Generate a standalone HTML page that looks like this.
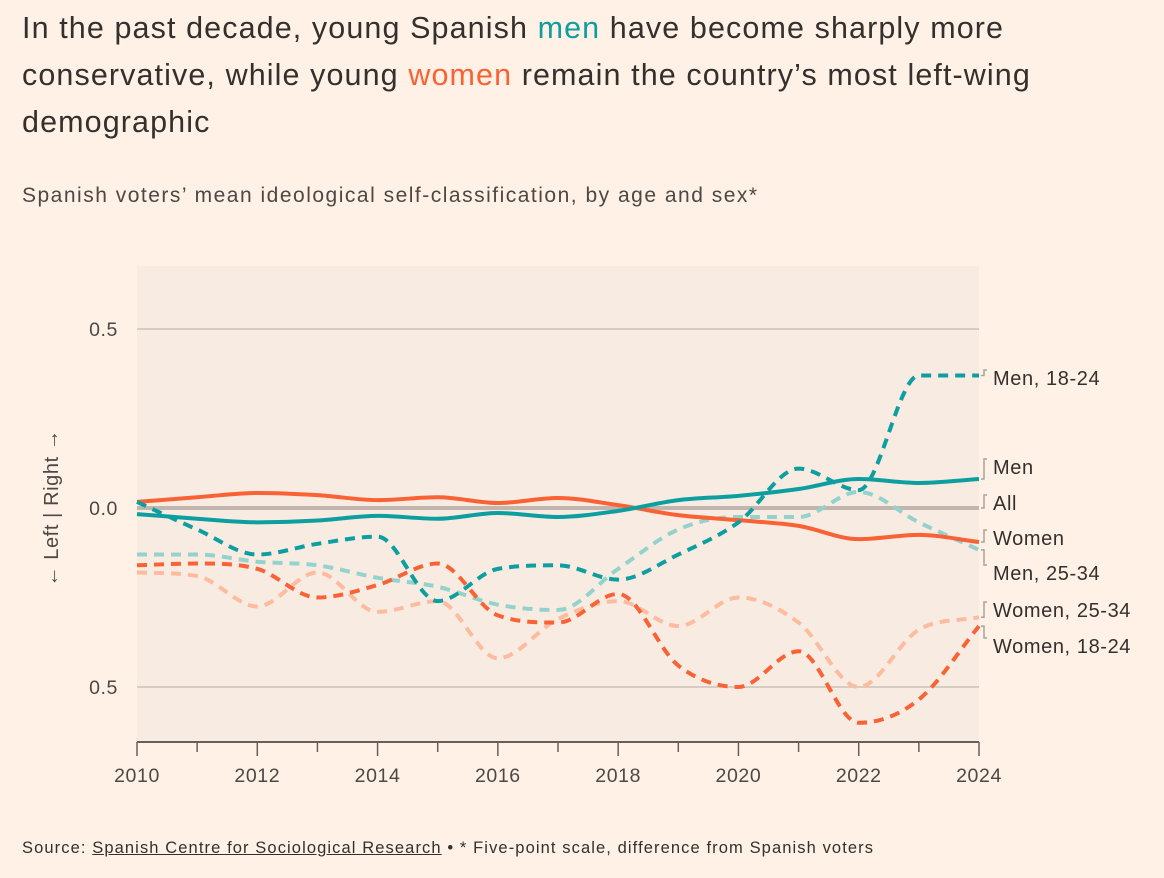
<!DOCTYPE html>
<html><head><meta charset="utf-8">
<style>
body{margin:0;background:#fff1e5;font-family:"Liberation Sans",sans-serif;color:#33302e;}
#wrap{position:relative;width:1164px;height:878px;overflow:hidden;}
h1{position:absolute;left:22px;top:5px;margin:0;font-weight:normal;font-size:30.5px;line-height:47px;width:1130px;letter-spacing:1.1px;white-space:nowrap;}
.m{color:#0d9ea0}.w{color:#f96235}
#sub{position:absolute;left:22px;top:184px;font-size:21px;color:#4d4845;letter-spacing:1.5px;}
#src{position:absolute;left:22px;top:839px;font-size:16.5px;color:#33302e;letter-spacing:1.1px;}
#src u{text-decoration:underline;}
svg{position:absolute;left:0;top:0;}
svg text{letter-spacing:0.6px;}
</style></head><body>
<div id="wrap">
<h1>In the past decade, young Spanish <span class="m">men</span> have become sharply more<br>conservative, while young <span class="w">women</span> remain the country’s most left-wing<br>demographic</h1>
<div id="sub">Spanish voters’ mean ideological self-classification, by age and sex*</div>
<svg id="chart" width="1164" height="878"></svg>
<div id="src">Source: <u>Spanish Centre for Sociological Research</u> • * Five-point scale, difference from Spanish voters</div>
</div>
<script>
const years=[2010,2011,2012,2013,2014,2015,2016,2017,2018,2019,2020,2021,2022,2023,2024];
const yTicks=[0.5,0,-0.5];
const yTickLabels=["0.5","0.0","0.5"];
const xTickLabels=[2010,2012,2014,2016,2018,2020,2022,2024];
const allVals=[0,0,0,0,0,0,0,0,0,0,0,0,0,0,0];
const menVals=[-0.017,-0.03,-0.04,-0.035,-0.022,-0.03,-0.014,-0.025,-0.008,0.022,0.034,0.053,0.081,0.07,0.081];
const womenVals=[0.017,0.03,0.042,0.036,0.022,0.03,0.014,0.028,0.008,-0.02,-0.034,-0.05,-0.087,-0.075,-0.095];
const men2534=[-0.13,-0.13,-0.15,-0.16,-0.195,-0.22,-0.27,-0.285,-0.17,-0.06,-0.025,-0.025,0.045,-0.04,-0.117];
const women2534=[-0.18,-0.19,-0.275,-0.18,-0.29,-0.26,-0.42,-0.31,-0.26,-0.33,-0.25,-0.32,-0.5,-0.34,-0.305];
const women1824=[-0.16,-0.155,-0.17,-0.25,-0.215,-0.155,-0.3,-0.32,-0.24,-0.44,-0.5,-0.4,-0.6,-0.535,-0.33];
const men1824=[0.017,-0.06,-0.13,-0.10,-0.08,-0.26,-0.17,-0.16,-0.20,-0.13,-0.04,0.11,0.05,0.37,0.37];

const X0=137,X1=979,Y0=508,PU=358;
const x=yr=>X0+(yr-2010)*(X1-X0)/14;
const y=v=>Y0-v*PU;
const svg=document.getElementById('chart');
const NS='http://www.w3.org/2000/svg';
function mk(t,a,p){const e=document.createElementNS(NS,t);for(const k in a)e.setAttribute(k,a[k]);(p||svg).appendChild(e);return e;}

let bg=mk('rect',{x:X0,y:266,width:X1-X0,height:476,fill:'#f8ece2'});



yTicks.forEach((t,i)=>{
  if(t!==0){let g=mk('line',{x1:X0,x2:X1,y1:y(t),y2:y(t),stroke:'#ccc1b7','stroke-width':1.5});
  
  }
  let tx=mk('text',{x:118,y:y(t)+7,'text-anchor':'end','font-size':19.5,fill:'#4d4845'});
  tx.textContent=yTickLabels[i];
  
  
});
let yt=mk('text',{transform:'translate(58,508) rotate(-90)','text-anchor':'middle','font-size':20,fill:'#4d4845'});
yt.textContent='← Left | Right →';



let ax=mk('line',{x1:X0,x2:X1,y1:742,y2:742,stroke:'#33302e','stroke-width':1.5});


years.forEach(yr=>{let t=mk('line',{x1:x(yr),x2:x(yr),y1:742,y2:yr%2?752:756,stroke:'#66605c','stroke-width':1.5});

});
xTickLabels.forEach(yr=>{let t=mk('text',{x:x(yr),y:782,'text-anchor':'middle','font-size':19.5,fill:'#4d4845'});t.textContent=yr;

});

function path(vals){
  const p=vals.map((v,i)=>[x(years[i]),y(v)]);
  const n=p.length,h=p[1][0]-p[0][0];
  const d0=[];for(let i=0;i<n-1;i++)d0.push((p[i+1][1]-p[i][1])/h);
  const m=[];
  for(let i=0;i<n;i++){
    if(i===0)m.push(d0[0]);else if(i===n-1)m.push(d0[n-2]);
    else{const a=d0[i-1],b=d0[i];m.push(a*b<=0?0:(a+b)/2);}
  }
  for(let i=0;i<n-1;i++){
    if(d0[i]===0){m[i]=0;m[i+1]=0;continue;}
    const a=m[i]/d0[i],b=m[i+1]/d0[i],s=a*a+b*b;
    if(s>9){const t=3/Math.sqrt(s);m[i]=t*a*d0[i];m[i+1]=t*b*d0[i];}
  }
  let d='M'+p[0][0]+','+p[0][1];
  for(let i=0;i<n-1;i++){
    d+=`C${p[i][0]+h/3},${p[i][1]+m[i]*h/3} ${p[i+1][0]-h/3},${p[i+1][1]-m[i+1]*h/3} ${p[i+1][0]},${p[i+1][1]}`;
  }
  return d;
}
const series=[
 [allVals,'#c1b5ad',4,null,'line-all'],
 [women2534,'#fdbb9f',4,'10 7','line-women-25-34'],
 [men2534,'#94d3cd',4,'10 7','line-men-25-34'],
 [women1824,'#f96235',4,'10 7','line-women-18-24'],
 [womenVals,'#f96235',4,null,'line-women'],
 [menVals,'#0d9ea0',4,null,'line-men'],
 [men1824,'#0d9ea0',4,'10 7','line-men-18-24'],
];
series.forEach(s=>{
  const a={d:path(s[0]),fill:'none',stroke:s[1],'stroke-width':s[2],'stroke-linecap':'butt'};
  if(s[3])a['stroke-dasharray']=s[3];
  let e=mk('path',a);
  
  
});

const labels=[['Men, 18-24',378,y(men1824[14])],['Men',467,y(menVals[14])],['All',503,y(allVals[14])],['Women',538,y(womenVals[14])],['Men, 25-34',573,y(men2534[14])],['Women, 25-34',610,y(women2534[14])],['Women, 18-24',646,y(women1824[14])]];
labels.forEach(l=>{
  let c=mk('path',{d:`M${X1+2},${l[2]} L${X1+5},${l[2]} L${X1+5},${l[1]-8} L${X1+8},${l[1]-8}`,fill:'none',stroke:'#a9a29d','stroke-width':1.5});
  
  
  let t=mk('text',{x:993,y:l[1]+7,'font-size':20,fill:'#33302e'});
  t.textContent=l[0];
  
  
});
</script>
</body></html>
